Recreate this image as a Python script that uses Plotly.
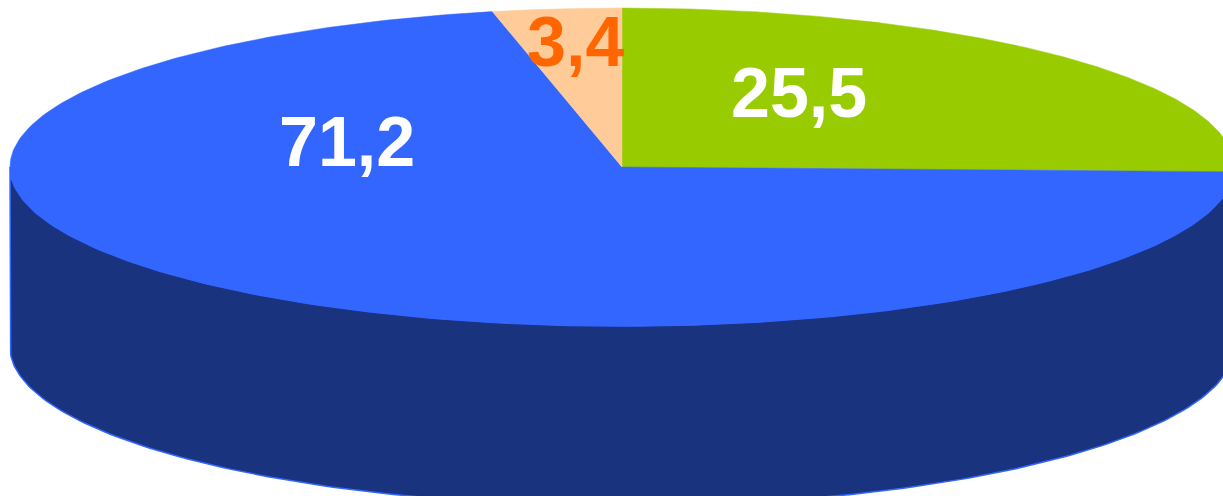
import numpy as np
import plotly.graph_objects as go

# ---- data ----
categories = ["Série A", "Série B", "Série C"]
values = [25.5, 71.2, 3.4]          # clockwise from 12 o'clock
labels = ["25,5", "71,2", "3,4"]
top_colors = ["#99CC00", "#3366FF", "#FFCC99"]
side_colors = ["#4D6600", "#1A337F", "#806633"]
label_colors = ["#FFFFFF", "#FFFFFF", "#FF6600"]

# ---- geometry (layout of the pseudo-3D pie) ----
W, H = 1223, 496
cx, cy = 622, 167
rx, ry = 612, 159
depth = 180
label_pos = [(799, 93), (347, 142), (575, 42)]


def pt(theta_deg, dy=0.0):
    t = np.radians(theta_deg)
    return cx + rx * np.sin(t), cy - ry * np.cos(t) + dy


fig = go.Figure()

total = sum(values)
angles = []
a = 0.0
for v in values:
    angles.append((a, a + 360.0 * v / total))
    a += 360.0 * v / total

# sides (front half: 90..270 deg)
for (a1, a2), col in zip(angles, side_colors):
    s, e = max(a1, 90.0), min(a2, 270.0)
    if e <= s:
        continue
    th = np.linspace(s, e, 200)
    xt, yt = pt(th)
    xb, yb = pt(th[::-1], depth)
    xs = np.concatenate([xt, xb, xt[:1]])
    ys = np.concatenate([yt, yb, yt[:1]])
    fig.add_trace(go.Scatter(x=xs, y=ys, mode="lines", fill="toself",
                             fillcolor=col, line=dict(color="#3366FF", width=1.5),
                             hoverinfo="skip", showlegend=False))

# tops
for (a1, a2), col, name in zip(angles, top_colors, categories):
    th = np.linspace(a1, a2, 300)
    xe, ye = pt(th)
    xs = np.concatenate([[cx], xe, [cx]])
    ys = np.concatenate([[cy], ye, [cy]])
    fig.add_trace(go.Scatter(x=xs, y=ys, mode="lines", fill="toself",
                             fillcolor=col, line=dict(color=col, width=0.5),
                             name=name, hoverinfo="skip", showlegend=False))

for lab, (lx, ly), lc in zip(labels, label_pos, label_colors):
    fig.add_annotation(x=lx, y=ly, text=f"<b>{lab}</b>", showarrow=False,
                       font=dict(family="Liberation Sans, Arial", size=70, color=lc),
                       xanchor="center", yanchor="middle")

fig.update_xaxes(range=[0, W], visible=False, fixedrange=True)
fig.update_yaxes(range=[H, 0], visible=False, fixedrange=True)
fig.update_layout(width=W, height=H, margin=dict(l=0, r=0, t=0, b=0),
                  paper_bgcolor="white", plot_bgcolor="white")

fig.write_html("out.html", config={"displayModeBar": False},
               post_script="document.body.style.margin='0px';document.body.style.overflow='hidden';")
